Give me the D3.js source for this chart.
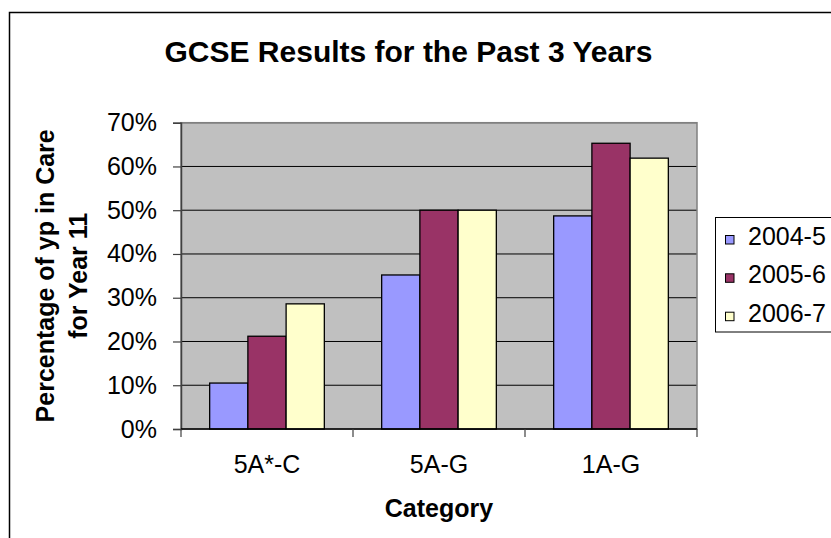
<!DOCTYPE html>
<html><head><meta charset="utf-8">
<script src="https://cdn.jsdelivr.net/npm/d3@7"></script>
<style>
body{margin:0;background:#fff;}
svg{display:block;font-family:"Liberation Sans",Arial,sans-serif;}
</style></head>
<body>
<svg id="c" width="831" height="538"></svg>
<script>
const categories = ["5A*-C", "5A-G", "1A-G"];
const seriesNames = ["2004-5", "2005-6", "2006-7"];
const values2004 = [0.105, 0.352, 0.487];
const values2005 = [0.212, 0.500, 0.653];
const values2006 = [0.286, 0.500, 0.619];
const yTicks = [0, 0.1, 0.2, 0.3, 0.4, 0.5, 0.6, 0.7];
const colors = ["#9999FF", "#993366", "#FFFFCC"];

const seriesValues = [values2004, values2005, values2006];
const svg = d3.select("#c");

// outer chart border
svg.append("rect").attr("x", 9.5).attr("y", 12.5).attr("width", 1000).attr("height", 1000)
  .attr("fill", "#fff").attr("stroke", "#000").attr("stroke-width", 1.5);

const L = 181, R = 697, T = 122.7, B = 429;
const x = d3.scaleBand().domain(categories).range([L, R]).paddingInner(0).paddingOuter(0);
const xs = d3.scaleBand().domain(seriesNames).range([0, x.bandwidth()]).paddingInner(0).paddingOuter(0.75);
const y = d3.scaleLinear().domain([0, 0.7]).range([B, T]);

// plot area
svg.append("rect").attr("x", L).attr("y", T).attr("width", R - L).attr("height", B - T)
  .attr("fill", "#C0C0C0");

// gridlines
svg.append("g").selectAll("line").data(yTicks.filter(d => d > 0)).join("line")
  .attr("x1", L).attr("x2", R).attr("y1", d => y(d)).attr("y2", d => y(d))
  .attr("stroke", "#000").attr("stroke-width", 1);

// plot border
svg.append("rect").attr("x", L).attr("y", T).attr("width", R - L).attr("height", B - T)
  .attr("fill", "none").attr("stroke", "#808080").attr("stroke-width", 1.5);

// bars
const data = [];
categories.forEach((c, i) => seriesNames.forEach((s, j) => data.push({c, s, j, v: seriesValues[j][i]})));
svg.append("g").selectAll("rect").data(data).join("rect")
  .attr("x", d => x(d.c) + xs(d.s))
  .attr("y", d => y(d.v))
  .attr("width", xs.bandwidth())
  .attr("height", d => B - y(d.v))
  .attr("fill", d => colors[d.j])
  .attr("stroke", "#000").attr("stroke-width", 1.3);

// y axis
const yAxis = d3.axisLeft(y).tickValues(yTicks).tickFormat(d3.format(".0%")).tickSize(8).tickPadding(16);
const gy = svg.append("g").attr("transform", `translate(${L},0)`).call(yAxis);
gy.select(".domain").attr("stroke", "#404040").attr("stroke-width", 1.5);
gy.selectAll(".tick line").attr("stroke", "#404040").attr("stroke-width", 1.2);
gy.selectAll(".tick text").attr("font-size", 25).attr("fill", "#000")
  .attr("font-family", '"Liberation Sans",Arial,sans-serif');

// x axis line and boundary ticks
svg.append("line").attr("x1", L).attr("x2", R).attr("y1", B).attr("y2", B)
  .attr("stroke", "#000").attr("stroke-width", 1.5);
const bounds = categories.map(c => x(c)).concat([x(categories[categories.length - 1]) + x.bandwidth()]);
svg.append("g").selectAll("line").data(bounds).join("line")
  .attr("x1", d => d).attr("x2", d => d).attr("y1", B).attr("y2", B + 8)
  .attr("stroke", "#404040").attr("stroke-width", 1.2);
svg.append("g").selectAll("text").data(categories).join("text")
  .attr("x", d => x(d) + x.bandwidth() / 2).attr("y", 473)
  .attr("text-anchor", "middle").attr("font-size", 25).text(d => d);

// title
svg.append("text").attr("x", 408.5).attr("y", 62).attr("text-anchor", "middle")
  .attr("font-size", 30).attr("font-weight", "bold").text("GCSE Results for the Past 3 Years");

// axis titles
svg.append("text").attr("x", (L + R) / 2).attr("y", 517).attr("text-anchor", "middle")
  .attr("font-size", 25).attr("font-weight", "bold").text("Category");
const yc = (T + B) / 2;
svg.append("text").attr("transform", `translate(54,${yc}) rotate(-90)`).attr("text-anchor", "middle")
  .attr("font-size", 25).attr("font-weight", "bold").text("Percentage of yp in Care");
svg.append("text").attr("transform", `translate(87,${yc}) rotate(-90)`).attr("text-anchor", "middle")
  .attr("font-size", 25).attr("font-weight", "bold").text("for Year 11");

// legend
const lg = svg.append("g");
lg.append("rect").attr("x", 715.5).attr("y", 217.5).attr("width", 200).attr("height", 114.5)
  .attr("fill", "#fff").attr("stroke", "#000").attr("stroke-width", 1);
const baselines = [245, 283.3, 321.7];
seriesNames.forEach((s, j) => {
  lg.append("rect").attr("x", 725.5).attr("y", baselines[j] - 9.5).attr("width", 8.5).attr("height", 8.5)
    .attr("fill", colors[j]).attr("stroke", "#000").attr("stroke-width", 1);
  lg.append("text").attr("x", 748).attr("y", baselines[j]).attr("font-size", 25).text(s);
});
</script>
</body></html>
